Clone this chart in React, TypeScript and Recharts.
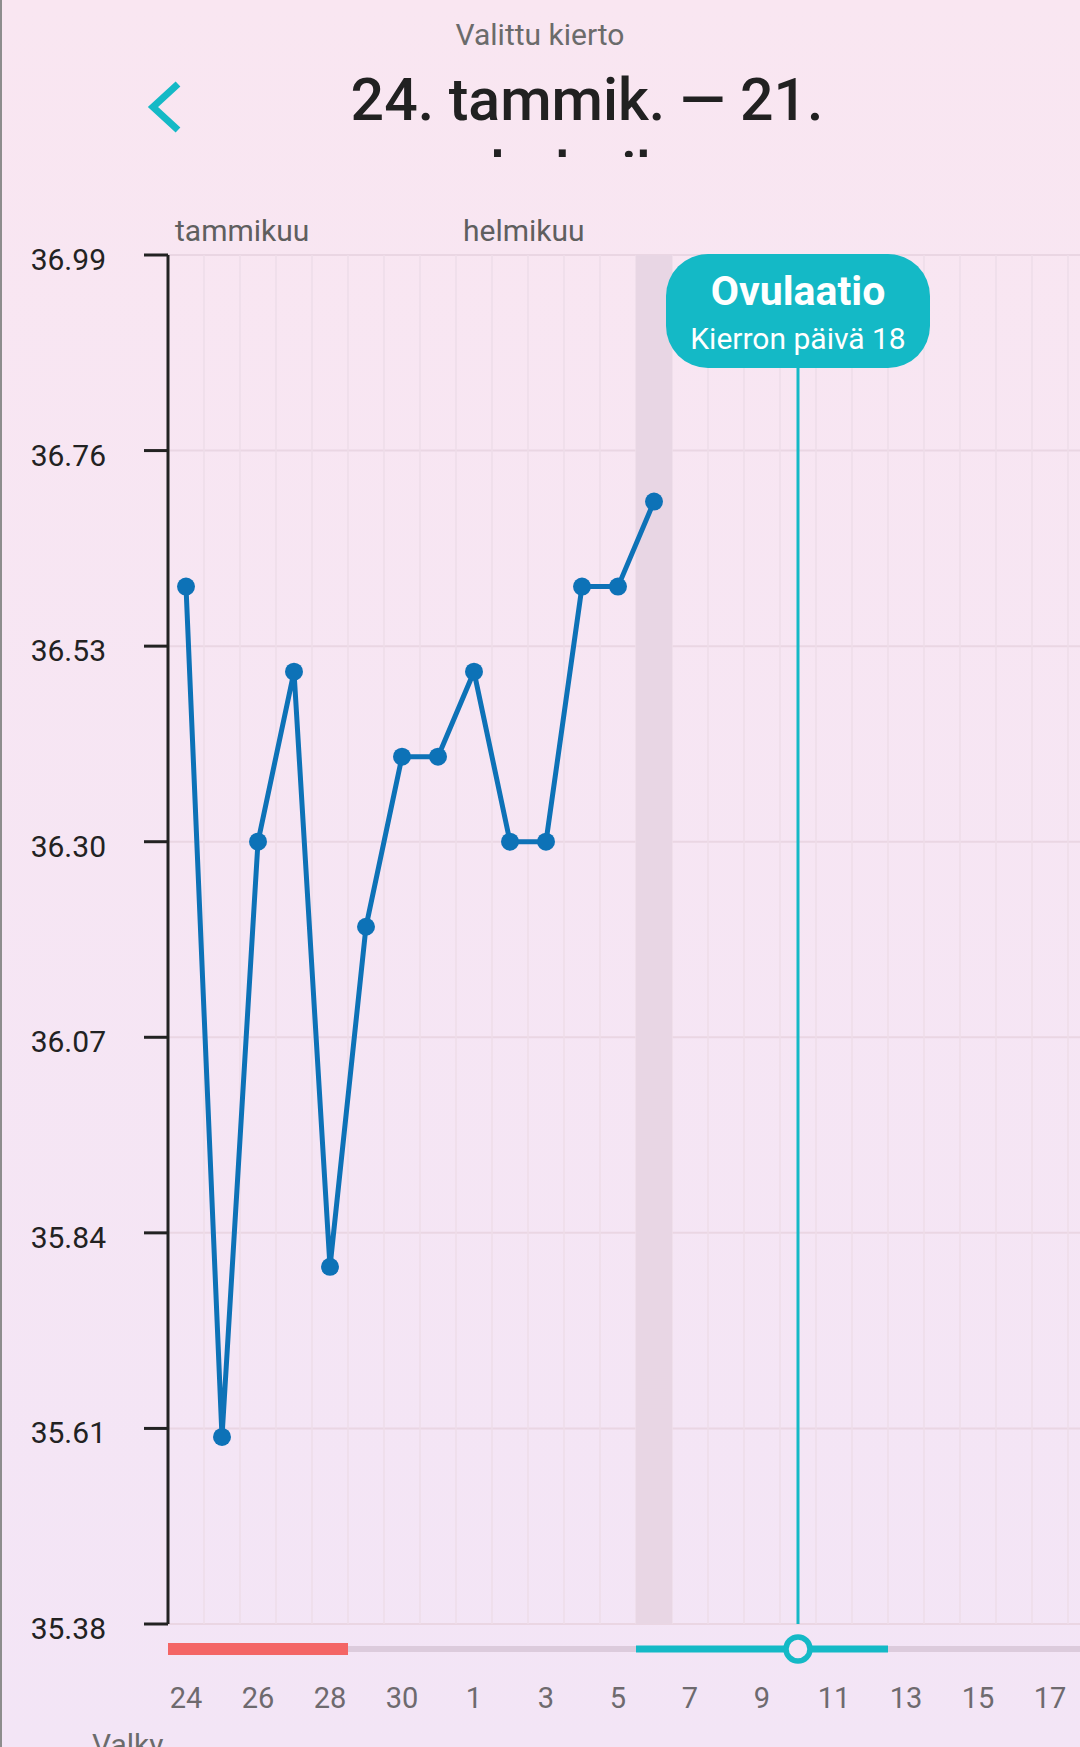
import React from 'react';
import {
  ComposedChart,
  Line,
  XAxis,
  YAxis,
  CartesianGrid,
  ReferenceArea,
  ReferenceLine,
  ReferenceDot,
} from 'recharts';

// cycle days: 24 Jan .. 21 Feb
const days = [24, 25, 26, 27, 28, 29, 30, 31, 1, 2, 3, 4, 5, 6, 7, 8, 9, 10, 11, 12, 13, 14, 15, 16, 17, 18, 19, 20, 21];
const temps = [36.6, 35.6, 36.3, 36.5, 35.8, 36.2, 36.4, 36.4, 36.5, 36.3, 36.3, 36.6, 36.6, 36.7];
const yTicks = [35.38, 35.61, 35.84, 36.07, 36.3, 36.53, 36.76, 36.99];
const monthNames = ['tammikuu', 'helmikuu'];
const periodRange = [0, 4];
const fertileRange = [13, 19];
const ovulationIndex = 17;
const todayIndex = 13;

const FONT = 'Roboto, sans-serif';
const TEAL = '#14b9c6';
const LINE = '#0d72b7';

const data = days.map((d, i) => ({ i, day: d, temp: i < temps.length ? temps[i] : null }));
const xDomain: [number, number] = [-0.5, days.length - 0.5];
const boundaries = days.map((_, i) => i - 0.5).concat([days.length - 0.5]);
const monthStarts = days.map((d, i) => (i === 0 || d === 1 ? i : -1)).filter((i) => i >= 0);
const labelTicks = days.map((_, i) => i).filter((i) => i % 2 === 0);

const YTick = (props: any) => (
  <text x={props.x} y={props.y + 15} textAnchor="end" fill="#222" fontSize={30} fontFamily={FONT}>
    {Number(props.payload.value).toFixed(2)}
  </text>
);

const MonthTick = (props: any) => {
  const idx = monthStarts.indexOf(props.payload.value);
  return (
    <text x={props.x - 11} y={props.y - 14} textAnchor="start" fill="#5f5f5f" fontSize={30} fontFamily={FONT}>
      {monthNames[idx]}
    </text>
  );
};

const DayTick = (props: any) => (
  <text x={props.x} y={props.y + 36} textAnchor="middle" fill="#6e6a6e" fontSize={29} fontFamily={FONT}>
    {days[props.payload.value]}
  </text>
);

const Bubble = (props: any) => {
  const { x, y } = props.viewBox;
  return (
    <g>
      <rect x={x - 132} y={y - 1} width={264} height={114} rx={42} fill={TEAL} />
      <text x={x} y={y + 50} textAnchor="middle" fill="#fff" fontSize={41} fontWeight={700} fontFamily={FONT}>
        Ovulaatio
      </text>
      <text x={x} y={y + 94} textAnchor="middle" fill="#fff" fontSize={30} fontFamily={FONT}>
        Kierron päivä 18
      </text>
    </g>
  );
};

export default function App() {
  const chartWidth = 168 + days.length * 36;
  return (
    <div
      style={{
        position: 'absolute',
        left: 0,
        top: 0,
        width: 1080,
        height: 1747,
        overflow: 'hidden',
        background: 'linear-gradient(#f9e6f1, #f3e5f6)',
        fontFamily: FONT,
      }}
    >
      <div style={{ position: 'absolute', left: 0, top: 0, width: 2, height: 1747, background: '#8d8d8d' }} />
      <div
        style={{
          position: 'absolute',
          top: 18,
          left: 0,
          width: 1080,
          textAlign: 'center',
          fontSize: 30,
          lineHeight: '34px',
          color: '#6b6b6b',
        }}
      >
        Valittu kierto
      </div>
      <svg style={{ position: 'absolute', left: 140, top: 76 }} width={50} height={62}>
        <polyline points="38,8 13,31 38,54" fill="none" stroke={TEAL} strokeWidth={7} />
      </svg>
      <div
        style={{
          position: 'absolute',
          top: 63,
          left: 100,
          width: 974,
          height: 94,
          overflow: 'hidden',
          textAlign: 'center',
          fontSize: 59,
          fontWeight: 500,
          lineHeight: '74px',
          color: '#212121',
        }}
      >
        24. tammik. — 21.
        <br />
        helmik.
      </div>

      <div style={{ position: 'absolute', left: 0, top: 190 }}>
        <ComposedChart width={chartWidth} height={1464} data={data} margin={{ top: 0, right: 0, left: 0, bottom: 30 }}>
          <CartesianGrid horizontal={true} vertical={false} stroke="#ead6e3" strokeWidth={2} />
          <CartesianGrid horizontal={false} vertical={true} stroke="#eedde9" strokeWidth={1.5} />
          <XAxis dataKey="i" type="number" domain={xDomain} ticks={boundaries} hide />
          <XAxis
            xAxisId="m"
            dataKey="i"
            type="number"
            orientation="top"
            domain={xDomain}
            ticks={monthStarts}
            height={65}
            axisLine={false}
            tickLine={false}
            tickSize={0}
            tickMargin={0}
            tick={<MonthTick />}
            interval={0}
          />
          <YAxis
            type="number"
            domain={[yTicks[0], yTicks[yTicks.length - 1]]}
            ticks={yTicks}
            interval={0}
            width={168}
            tickSize={24}
            tickMargin={38}
            axisLine={{ stroke: '#222', strokeWidth: 3 }}
            tickLine={{ stroke: '#222', strokeWidth: 3 }}
            tick={<YTick />}
          />
          <ReferenceArea x1={todayIndex - 0.5} x2={todayIndex + 0.5} fill="#e8d6e4" fillOpacity={1} stroke="none" />
          <ReferenceLine x={ovulationIndex} stroke={TEAL} strokeWidth={3} label={Bubble} />
          <Line
            dataKey="temp"
            stroke={LINE}
            strokeWidth={5}
            dot={{ r: 9, fill: LINE, stroke: LINE, strokeWidth: 0 }}
            activeDot={false}
            isAnimationActive={false}
          />
        </ComposedChart>
      </div>

      <div style={{ position: 'absolute', left: 0, top: 1626 }}>
        <ComposedChart width={chartWidth} height={121} data={data} margin={{ top: 0, right: 0, left: 168, bottom: 0 }}>
          <XAxis
            dataKey="i"
            type="number"
            domain={xDomain}
            allowDataOverflow
            ticks={labelTicks}
            interval={0}
            height={75}
            axisLine={false}
            tickLine={false}
            tickSize={0}
            tickMargin={0}
            tick={<DayTick />}
          />
          <YAxis type="number" domain={[0, 1]} allowDataOverflow hide />
          <ReferenceLine y={0.5} stroke="#dccbdc" strokeWidth={6} />
          <ReferenceLine
            segment={[
              { x: periodRange[0] - 0.5, y: 0.5 },
              { x: periodRange[1] + 0.5, y: 0.5 },
            ]}
            stroke="#f46565"
            strokeWidth={12}
          />
          <ReferenceLine
            segment={[
              { x: fertileRange[0] - 0.5, y: 0.5 },
              { x: fertileRange[1] + 0.5, y: 0.5 },
            ]}
            stroke={TEAL}
            strokeWidth={7}
          />
          <ReferenceDot x={ovulationIndex} y={0.5} r={12} fill="#f4e5f5" stroke={TEAL} strokeWidth={5.5} />
        </ComposedChart>
      </div>

      <div style={{ position: 'absolute', left: 92, top: 1727, fontSize: 30, color: '#6b6b6b' }}>Valky</div>
    </div>
  );
}
